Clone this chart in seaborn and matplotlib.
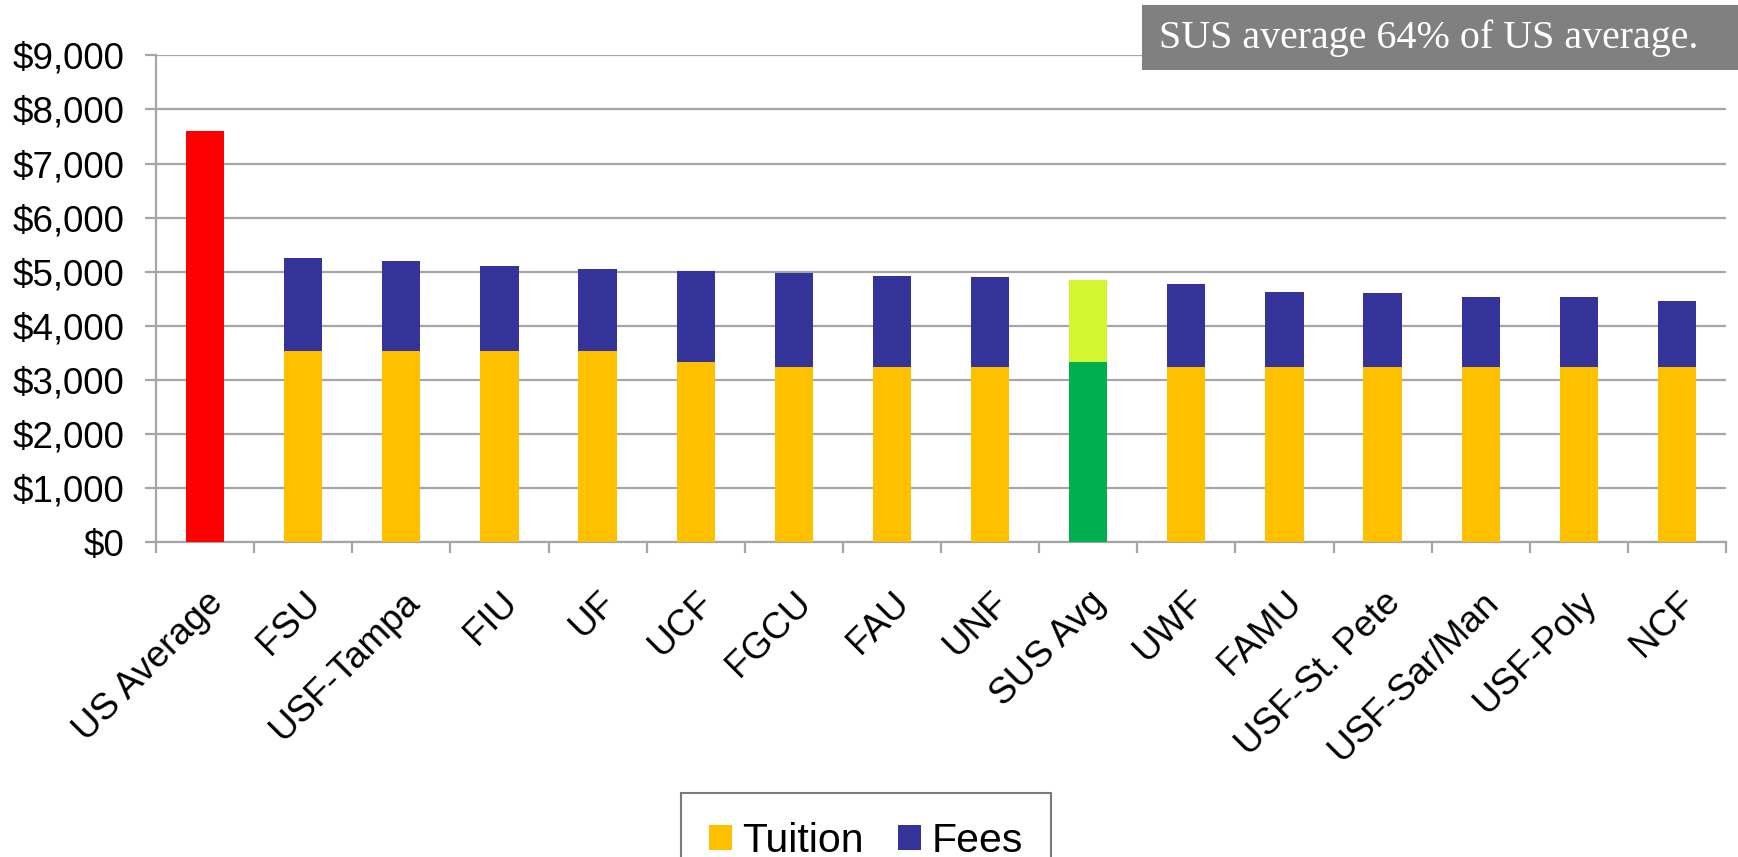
import matplotlib
matplotlib.use("Agg")
import matplotlib.pyplot as plt
import seaborn as sns
import pandas as pd
from matplotlib.patches import Patch, Rectangle
from matplotlib.ticker import FixedLocator, FuncFormatter

categories = ["US Average", "FSU", "USF-Tampa", "FIU", "UF", "UCF", "FGCU", "FAU",
              "UNF", "SUS Avg", "UWF", "FAMU", "USF-St. Pete", "USF-Sar/Man",
              "USF-Poly", "NCF"]
tuition = [7600, 3535, 3535, 3535, 3535, 3330, 3245, 3245,
           3245, 3330, 3245, 3245, 3245, 3245, 3245, 3245]
fees = [0, 1715, 1660, 1570, 1515, 1690, 1730, 1675,
        1650, 1520, 1535, 1370, 1355, 1280, 1280, 1205]
y_ticks = [0, 1000, 2000, 3000, 4000, 5000, 6000, 7000, 8000, 9000]
title_text = "SUS average 64% of US average."
legend_labels = ["Tuition", "Fees"]

C_TUITION = "#FFC000"
C_FEES = "#333399"
C_US = "#FF0000"
C_SUS_T = "#00B050"
C_SUS_F = "#D4F531"
GRID = "#A6A6A6"

df = pd.DataFrame({"cat": categories, "tuition": tuition, "fees": fees})
df["total"] = df["tuition"] + df["fees"]

total_pal = {c: C_FEES for c in categories}
total_pal["US Average"] = C_US
total_pal["SUS Avg"] = C_SUS_F
tuit_pal = {c: C_TUITION for c in categories}
tuit_pal["US Average"] = C_US
tuit_pal["SUS Avg"] = C_SUS_T

sns.set_style("white")
plt.rcParams["font.family"] = ["Liberation Sans", "DejaVu Sans"]
plt.rcParams["text.color"] = "black"
plt.rcParams["xtick.color"] = "black"
plt.rcParams["ytick.color"] = "black"
plt.rcParams["xtick.labelcolor"] = "black"
plt.rcParams["ytick.labelcolor"] = "black"

fig = plt.figure(figsize=(17.38, 8.57), dpi=100)
ax = fig.add_axes([156 / 1738, 1 - 542 / 857, (1726 - 156) / 1738, (542 - 55.4) / 857])

sns.barplot(data=df, x="cat", y="total", hue="cat", palette=total_pal, legend=False,
            width=0.39, ax=ax, order=categories, hue_order=categories,
            saturation=1, linewidth=0, zorder=2)
sns.barplot(data=df, x="cat", y="tuition", hue="cat", palette=tuit_pal, legend=False,
            width=0.39, ax=ax, order=categories, hue_order=categories,
            saturation=1, linewidth=0, zorder=3)

n = len(categories)
ax.set_xlim(-0.5, n - 0.5)
ax.set_ylim(0, 9000)
ax.yaxis.set_major_locator(FixedLocator(y_ticks))
ax.yaxis.set_major_formatter(FuncFormatter(lambda v, p: f"${v:,.0f}"))
ax.set_axisbelow(True)
ax.grid(axis="y", color=GRID, linewidth=1.6, zorder=0)
ax.grid(axis="x", visible=False)
ax.set_xlabel("")
ax.set_ylabel("")

for s in ["top", "right"]:
    ax.spines[s].set_visible(False)
for s in ["left", "bottom"]:
    ax.spines[s].set_visible(True)
    ax.spines[s].set_color(GRID)
    ax.spines[s].set_linewidth(1.6)

ax.tick_params(axis="y", which="major", length=8, width=1.6, color=GRID,
               labelsize=26.5, labelcolor="black", pad=15, left=True)
ax.set_xticks(range(n))
ax.set_xticklabels(categories, rotation=45, ha="right", va="top",
                   rotation_mode="anchor", fontsize=26.5, color="black")
ax.tick_params(axis="x", which="major", length=0, pad=31)
ax.set_xticks([i - 0.5 for i in range(n + 1)], minor=True)
ax.tick_params(axis="x", which="minor", length=8, width=1.6, color=GRID,
               direction="out", bottom=True)

handles = [Patch(facecolor=C_TUITION, edgecolor="none"),
           Patch(facecolor=C_FEES, edgecolor="none")]
leg = fig.legend(handles, legend_labels, loc="upper center",
                 bbox_to_anchor=(866 / 1738, 1 - 793 / 857), ncol=2,
                 fontsize=29.5, frameon=True, fancybox=False, borderaxespad=0,
                 handlelength=0.55, handleheight=0.55, handletextpad=0.25,
                 columnspacing=0.85, borderpad=0.7)
leg.get_frame().set_edgecolor("#595959")
leg.get_frame().set_linewidth(1.5)
for t in leg.get_texts():
    t.set_color("black")

rect = Rectangle((1142 / 1738, 1 - 70 / 857), (1738 - 1142) / 1738, 65 / 857,
                 transform=fig.transFigure, facecolor="#808080", edgecolor="none",
                 zorder=5)
fig.patches.append(rect)
fig.text(1159 / 1738, 1 - 38 / 857, title_text, color="white",
         family=["Liberation Serif", "DejaVu Serif"], fontsize=28.8,
         ha="left", va="center", zorder=6)

fig.savefig("out.png", dpi=100)
